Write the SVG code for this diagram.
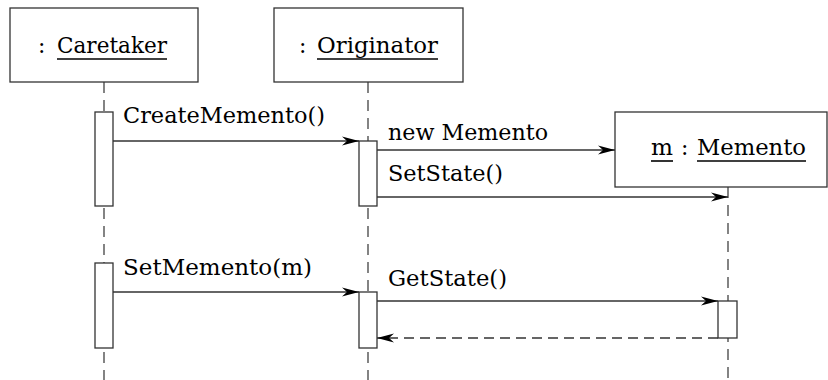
<svg xmlns="http://www.w3.org/2000/svg" width="828" height="380" viewBox="0 0 828 380">
<style>
.box{fill:#fff;stroke:#333;stroke-width:1.3}
.act{fill:#fff;stroke:#333;stroke-width:1.3}
.life{stroke:#333;stroke-width:1.2;stroke-dasharray:11 7;fill:none}
.msg{stroke:#333;stroke-width:1.3;fill:none}
.ret{stroke:#333;stroke-width:1.3;fill:none;stroke-dasharray:10 6}
.ul{stroke:#000;stroke-width:1.6}
.t{font-family:'DejaVu Serif','Liberation Serif',serif;font-size:22px;fill:#000}
</style>
<defs>
<marker id="ah" viewBox="0 0 18 12" markerUnits="userSpaceOnUse" markerWidth="18" markerHeight="12" refX="17" refY="6" orient="auto">
<path d="M0,1.5 L17,6 L0,10.5 L5,6 Z" fill="#000"/>
</marker>
</defs>
<g id="lifelines">
<line class="life" x1="104" y1="82" x2="104" y2="380"/>
<line class="life" x1="368" y1="82" x2="368" y2="380"/>
<line class="life" x1="728" y1="187" x2="728" y2="380"/>
</g>
<g id="caretaker">
<rect class="box" x="10" y="8" width="188" height="74"/>
<text class="t" x="38" y="53">:</text>
<text class="t" x="57" y="53" textLength="110" lengthAdjust="spacingAndGlyphs">Caretaker</text>
<line class="ul" x1="57" y1="59" x2="167" y2="59"/>
</g>
<g id="originator">
<rect class="box" x="274" y="8" width="189" height="74"/>
<text class="t" x="299" y="53">:</text>
<text class="t" x="317" y="53" textLength="121" lengthAdjust="spacingAndGlyphs">Originator</text>
<line class="ul" x1="317" y1="59" x2="438" y2="59"/>
</g>
<g id="memento">
<rect class="box" x="615" y="112" width="212" height="75"/>
<text class="t" x="651" y="155" textLength="22" lengthAdjust="spacingAndGlyphs">m</text>
<line class="ul" x1="651" y1="161" x2="673" y2="161"/>
<text class="t" x="681" y="155">:</text>
<text class="t" x="697" y="155" textLength="109" lengthAdjust="spacingAndGlyphs">Memento</text>
<line class="ul" x1="697" y1="161" x2="806" y2="161"/>
</g>
<g id="activations">
<rect class="act" x="95" y="112" width="18" height="94"/>
<rect class="act" x="359" y="141" width="18" height="65"/>
<rect class="act" x="95" y="263" width="18" height="85"/>
<rect class="act" x="359" y="292" width="18" height="56"/>
<rect class="act" x="718" y="301" width="19" height="37"/>
</g>
<g id="connectors">
<line class="msg" x1="113" y1="141" x2="359" y2="141" marker-end="url(#ah)"/>
<line class="msg" x1="377" y1="150" x2="615" y2="150" marker-end="url(#ah)"/>
<line class="msg" x1="377" y1="197" x2="728" y2="197" marker-end="url(#ah)"/>
<line class="msg" x1="113" y1="292" x2="359" y2="292" marker-end="url(#ah)"/>
<line class="msg" x1="377" y1="301" x2="718" y2="301" marker-end="url(#ah)"/>
<line class="ret" x1="718" y1="338" x2="377" y2="338" marker-end="url(#ah)"/>
</g>
<g id="labels">
<text class="t" x="123" y="123" textLength="202" lengthAdjust="spacingAndGlyphs">CreateMemento()</text>
<text class="t" x="388" y="140" textLength="160" lengthAdjust="spacingAndGlyphs">new Memento</text>
<text class="t" x="388" y="181" textLength="115" lengthAdjust="spacingAndGlyphs">SetState()</text>
<text class="t" x="123" y="275" textLength="189" lengthAdjust="spacingAndGlyphs">SetMemento(m)</text>
<text class="t" x="388" y="286" textLength="119" lengthAdjust="spacingAndGlyphs">GetState()</text>
</g>
</svg>
